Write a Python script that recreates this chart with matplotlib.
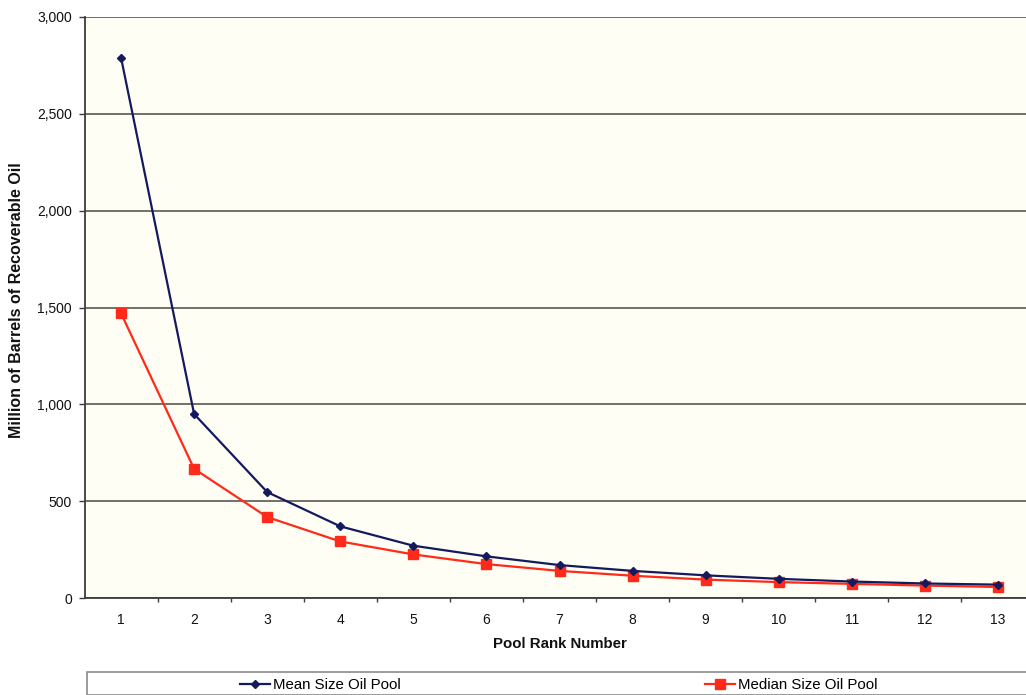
import matplotlib
matplotlib.use("Agg")
import matplotlib.pyplot as plt
from matplotlib.patches import Rectangle
from matplotlib.ticker import FuncFormatter, FixedLocator

plt.rcParams['font.family'] = ['Liberation Sans', 'DejaVu Sans']

# Pool ranks and field-size estimates (million barrels of recoverable oil)
pool_rank = [1, 2, 3, 4, 5, 6, 7, 8, 9, 10, 11, 12, 13]
mean_size = [2790, 950, 547, 370, 270, 215, 170, 140, 117, 99, 85, 75, 69]
median_size = [1470, 667, 418, 292, 225, 175, 140, 115, 95, 82, 73, 64, 57]
y_ticks = [0, 500, 1000, 1500, 2000, 2500, 3000]

W, H = 1026, 695
fig = plt.figure(figsize=(W / 100, H / 100), dpi=100)
fig.patch.set_facecolor('white')

# plot area: left edge at x=84px, top at 17px, bottom at 598px, running past the right edge
ax = fig.add_axes([84.5 / W, 1 - 598 / H, 950 / W, 581 / H])
ax.set_facecolor('#FEFEF4')

navy = '#141A5E'
red = '#FF2A1A'
ln_mean, = ax.plot(pool_rank, mean_size, color=navy, lw=1.6, marker='D',
                   markersize=4.5, markeredgecolor=navy, label='Mean Size Oil Pool',
                   zorder=4)
ln_med, = ax.plot(pool_rank, median_size, color=red, lw=1.6, marker='s',
                  markersize=6.5, markeredgecolor=red, label='Median Size Oil Pool',
                  zorder=3)

ax.set_xlim(0.5, 13.5)
ax.set_ylim(0, 3000)
ax.set_yticks(y_ticks)
ax.yaxis.set_major_formatter(FuncFormatter(lambda v, p: f"{int(v):,}"))
ax.set_xticks(pool_rank)
ax.xaxis.set_minor_locator(FixedLocator([r + 0.5 for r in pool_rank[:-1]]))

ax.grid(axis='y', color='#4A4A44', lw=1.1, zorder=1)
ax.set_axisbelow(True)
for side in ('top', 'right'):
    ax.spines[side].set_visible(False)
for side in ('left', 'bottom'):
    ax.spines[side].set_color('#3C3C3C')
    ax.spines[side].set_linewidth(1.3)

ax.tick_params(axis='y', which='major', length=4, width=1, color='#3C3C3C',
               labelsize=10, pad=5, labelcolor='#111111')
ax.tick_params(axis='x', which='major', length=0, labelsize=10, pad=11,
               labelcolor='#111111')
ax.tick_params(axis='x', which='minor', length=3, width=1, color='#3C3C3C')

fig.text(560 / W, 1 - 644 / H, 'Pool Rank Number', fontsize=10.8,
         fontweight='bold', ha='center', va='center', color='#111111')
fig.text(17 / W, 1 - 300 / H, 'Million of Barrels of Recoverable Oil',
         fontsize=11.5, fontweight='bold', rotation=90, ha='center',
         va='center', color='#111111')

# legend frame below the chart
fig.patches.append(Rectangle((87 / W, 0), (W + 20 - 87) / W, (H - 672) / H,
                             transform=fig.transFigure, facecolor='white',
                             edgecolor='#8A8A8A', lw=1.2, zorder=0))
fig.legend(handles=[ln_mean, ln_med], loc='center left',
           bbox_to_anchor=(240 / W, 1 - 685 / H), ncol=2, frameon=False,
           fontsize=10.8, handlelength=2.0, handletextpad=0.2,
           columnspacing=20.3, borderpad=0, borderaxespad=0)

fig.savefig('out.png', dpi=100, facecolor='white')
